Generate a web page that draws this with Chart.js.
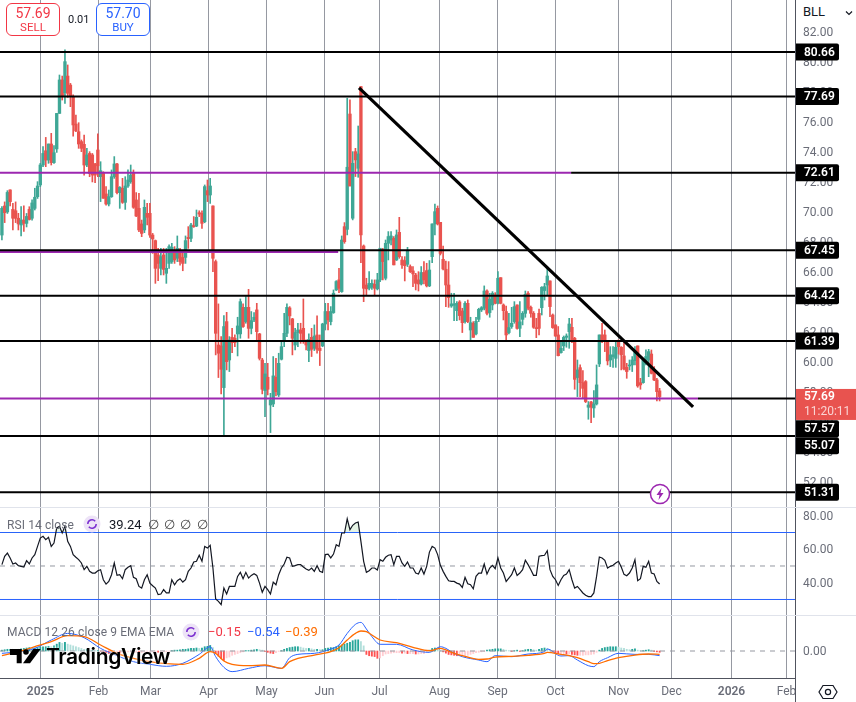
<!DOCTYPE html>
<html>
<head>
<meta charset="utf-8">
<script src="https://cdn.jsdelivr.net/npm/chart.js@4"></script>
<style>
    html, body { margin: 0; padding: 0; background: #fff; overflow: hidden; }
    body { width: 856px; height: 702px; position: relative; font-family: Roboto, sans-serif; color: #131722; }
    canvas { position: absolute; left: 0; display: block; }
    .abs { position: absolute; white-space: nowrap; }
    .quote { position: absolute; top: 3px; width: 52px; height: 31px; background: #fff; border: 1px solid; border-radius: 6px; text-align: center; }
    .quote b { display: block; font-weight: 400; font-size: 14px; line-height: 15px; margin-top: 2px; }
    .quote span { display: block; font-size: 11.5px; line-height: 13px; }
    .legend { font-size: 12px; letter-spacing: 0.1px; color: #6a6d78; line-height: 16px; }
    .sep { position: absolute; background: #e0e3eb; left: 0; width: 856px; height: 1px; }
</style>
</head>
<body>
<canvas id="priceChart" width="856" height="507" style="top:0"></canvas>
<canvas id="rsiChart" width="856" height="107" style="top:508px"></canvas>
<canvas id="macdChart" width="856" height="87" style="top:615px"></canvas>
<div class="sep" style="top:507px"></div>
<div class="sep" style="top:615px"></div>
<div class="abs" style="left:795px;top:678px;width:1px;height:24px;background:#50535e"></div>

<div class="quote" style="left:6px;border-color:#f23645;color:#f23645"><b>57.69</b><span>SELL</span></div>
<div class="abs" style="left:68px;top:13px;font-size:11px;line-height:13px">0.01</div>
<div class="quote" style="left:96px;border-color:#2962ff;color:#2962ff"><b>57.70</b><span>BUY</span></div>

<div class="abs" style="left:800px;top:0;width:56px;height:26px;background:#fff;border-radius:0 0 0 5px"></div>
<div class="abs" style="left:803px;top:4px;font-size:13px;line-height:16px">BLL</div>
<svg class="abs" style="left:845px;top:10px" width="8" height="6"><path d="M1 1.5 L4 4.5 L7 1.5" fill="none" stroke="#131722" stroke-width="1.2"/></svg>

<svg class="abs" style="left:649px;top:483px" width="22" height="22">
    <circle cx="11" cy="11" r="9.5" fill="#fff" stroke="#9c27b0" stroke-width="1.5"/>
    <path d="M12.5 5 L7.5 12 H10.5 L9.5 17 L14.5 10 H11.5 Z" fill="#9c27b0"/>
</svg>

<div class="abs legend" style="left:7px;top:517px">RSI 14 close</div>
<svg class="abs" style="left:83px;top:515px" width="18" height="18">
    <circle cx="9" cy="9" r="8.5" fill="#ede3f7"/>
    <path d="M4.8 9 A4.2 4.2 0 0 1 12.2 6.3 M13.2 9 A4.2 4.2 0 0 1 5.8 11.7" fill="none" stroke="#7b2fd0" stroke-width="1.5"/>
</svg>
<div class="abs" style="left:109px;top:517px;font-size:13px;line-height:16px">39.24</div>
<div class="abs" style="left:148px;top:517px;font-size:13px;line-height:16px;word-spacing:2px;color:#444">∅ ∅ ∅ ∅</div>

<div class="abs legend" style="left:7px;top:624px">MACD 12 26 close 9 EMA EMA</div>
<svg class="abs" style="left:182px;top:623px" width="18" height="18">
    <circle cx="9" cy="9" r="8.5" fill="#ede3f7"/>
    <path d="M4.8 9 A4.2 4.2 0 0 1 12.2 6.3 M13.2 9 A4.2 4.2 0 0 1 5.8 11.7" fill="none" stroke="#7b2fd0" stroke-width="1.5"/>
</svg>
<div class="abs" style="left:208px;top:624px;font-size:13px;line-height:16px;color:#f23645">−0.15</div>
<div class="abs" style="left:247px;top:624px;font-size:13px;line-height:16px;color:#2962ff">−0.54</div>
<div class="abs" style="left:285px;top:624px;font-size:13px;line-height:16px;color:#ff6d00">−0.39</div>

<svg class="abs" style="left:8px;top:647px" width="36" height="20">
    <path d="M2 2 H13.7 V16.3 H8.7 V8 H2 Z" fill="#000"/>
    <circle cx="18" cy="5" r="2.8" fill="#000"/>
    <path d="M25.3 2 H32.7 L22 16.3 H15 Z" fill="#000"/>
</svg>
<div class="abs" style="left:46px;top:644px;font-family:Inter, sans-serif;font-weight:600;font-size:21px;line-height:26px;letter-spacing:-0.35px;color:#000;text-shadow:0 0 3px #fff">TradingView</div>

<svg class="abs" style="left:818px;top:682px" width="20" height="20">
    <path d="M5 3.5 H15 L19 10 L15 16.5 H5 L1 10 Z" fill="none" stroke="#131722" stroke-width="1.2"/>
    <circle cx="10" cy="10" r="2.6" fill="none" stroke="#131722" stroke-width="1.2"/>
</svg>

<script>
const opens = [
    68.46,70.40,70.00,71.47,70.17,70.08,69.58,69.13,69.46,69.24,
    70.17,69.58,70.24,71.02,71.80,73.13,74.08,73.46,74.53,73.29,
    74.20,76.57,78.80,77.95,79.06,78.46,77.69,75.86,75.35,74.69,
    74.51,73.13,73.90,73.80,73.20,74.13,72.35,72.57,71.20,70.53,
    71.02,72.35,73.20,71.29,71.58,70.64,71.73,72.02,72.57,70.80,
    70.24,69.20,68.80,69.91,69.91,68.46,68.09,67.13,66.24,67.13,
    65.91,66.57,66.69,67.24,66.91,67.42,66.97,66.97,68.31,68.24,
    69.06,69.06,69.95,69.91,69.35,71.42,71.13,70.40,66.69,61.13,
    61.07,58.29,62.69,60.13,61.64,61.58,61.87,61.87,63.64,62.69,
    63.64,62.24,62.80,63.47,61.87,60.13,58.09,58.98,57.13,57.20,
    58.98,57.80,60.18,61.47,61.91,63.60,62.87,61.13,61.96,62.13,
    62.24,61.36,60.76,61.64,60.91,61.80,60.91,61.07,62.53,63.36,
    62.69,63.29,64.80,65.47,64.69,69.02,68.84,76.53,69.58,74.02,
    72.91,78.36,67.73,65.13,64.91,64.98,65.18,64.87,65.47,67.47,
    65.58,67.91,68.13,68.24,66.80,68.64,66.80,66.76,66.51,66.36,
    66.07,65.80,65.47,65.20,65.96,66.09,65.07,67.02,69.20,70.24,
    69.31,66.84,66.18,65.13,63.73,63.78,63.42,64.00,63.40,62.69,
    63.91,62.13,62.58,61.87,62.84,63.47,63.58,64.73,63.29,63.80,
    64.47,63.91,65.62,63.80,63.36,61.96,62.36,62.69,63.80,62.24,
    62.84,63.24,64.58,63.64,63.24,62.29,63.24,63.62,64.76,65.13,
    65.40,63.13,62.47,61.80,60.62,61.07,61.64,62.02,62.31,61.58,
    58.96,59.62,58.62,58.69,56.98,57.33,56.93,57.20,59.87,61.80,
    61.80,61.36,60.13,60.36,60.24,61.36,60.98,60.40,59.64,59.73,
    59.80,60.09,61.07,58.62,58.62,59.91,60.13,60.53,59.47,58.80,58.07
];
const highs = [
    70.35,70.67,71.42,71.47,70.57,70.67,69.91,70.35,70.40,69.90,
    70.35,70.80,71.58,72.02,73.24,74.35,74.97,74.53,75.24,74.42,
    76.57,79.13,79.06,80.80,79.80,78.57,77.80,76.46,75.95,74.80,
    75.13,74.24,74.02,73.90,73.24,75.20,73.35,72.68,71.69,71.46,
    72.80,73.69,73.24,71.69,72.24,72.35,72.80,73.13,72.80,71.29,
    71.24,69.46,70.80,70.57,70.57,68.57,68.13,67.57,67.57,67.57,
    67.57,67.80,67.91,67.69,68.40,67.57,67.35,68.40,69.02,69.24,
    69.69,70.13,70.08,70.08,71.80,72.13,72.24,70.40,66.80,63.87,
    61.69,63.09,63.31,61.69,62.24,61.80,62.98,64.20,63.87,64.36,
    64.84,63.36,63.29,63.91,61.91,60.24,59.91,59.91,57.91,60.36,
    60.24,60.58,61.36,63.24,63.87,63.69,62.91,62.24,62.58,62.58,
    64.20,61.47,61.87,62.24,62.47,63.07,61.80,62.58,63.91,63.91,
    63.69,64.80,65.42,66.24,68.40,69.29,77.58,77.47,74.02,74.24,
    75.73,78.36,67.80,65.58,66.02,65.47,65.47,65.91,67.58,67.58,
    68.13,68.69,68.69,68.36,68.80,69.64,67.02,67.02,67.64,66.47,
    66.36,65.91,66.02,66.36,66.69,66.58,66.76,69.20,70.53,70.40,
    69.31,67.73,66.73,66.69,64.58,64.58,64.02,64.09,63.58,64.02,
    64.13,62.98,62.69,62.98,63.58,63.69,65.07,64.80,64.58,64.69,
    64.62,66.02,65.62,63.87,63.73,63.24,63.64,64.02,63.80,64.02,
    63.36,64.73,64.69,63.73,63.36,62.91,63.53,65.02,65.24,66.18,
    65.40,63.20,62.47,62.36,61.36,61.73,61.87,62.91,62.91,61.64,
    60.13,59.80,59.42,58.76,57.36,57.38,58.09,59.80,61.80,62.58,
    62.13,61.36,61.02,61.02,61.36,61.47,61.02,61.36,59.91,60.13,
    60.36,61.02,61.07,58.91,60.24,60.80,60.84,60.80,59.69,58.91,58.24
];
const lows = [
    68.13,69.29,69.90,70.40,68.80,69.29,68.80,68.40,68.70,69.00,
    69.46,69.46,70.13,70.90,71.69,73.02,73.02,73.24,73.13,73.24,
    73.97,76.57,77.46,77.24,77.64,77.02,75.06,75.35,74.24,74.02,
    72.46,73.02,72.35,72.00,71.95,72.35,70.69,70.91,70.46,70.40,
    70.97,72.24,71.20,70.24,70.57,70.17,71.64,71.91,70.24,69.69,
    68.69,68.35,68.62,69.13,68.31,67.24,65.24,65.42,65.80,65.80,
    65.24,66.24,66.57,66.57,66.69,66.46,66.08,66.57,67.57,68.02,
    68.97,69.02,69.69,68.91,69.28,70.69,70.57,66.02,60.47,58.96,
    57.87,55.13,59.47,59.36,60.62,61.02,60.40,61.58,62.31,62.58,
    61.58,61.87,62.69,61.47,60.13,57.87,56.36,57.80,55.29,57.02,
    57.73,57.69,60.13,61.02,61.69,62.47,60.47,60.80,61.02,61.24,
    61.24,60.80,60.02,60.36,60.76,60.58,59.76,61.02,62.13,62.13,
    62.47,63.24,64.76,64.62,64.64,67.91,68.47,71.73,69.47,72.36,
    72.31,66.62,64.02,64.47,64.80,64.84,64.47,64.80,65.36,65.47,
    65.47,66.80,67.80,66.47,66.76,66.91,66.24,65.40,66.36,65.96,
    65.02,64.80,64.73,65.13,65.20,65.00,65.02,66.62,68.47,69.13,
    67.13,66.13,63.69,63.64,63.64,62.76,62.76,62.80,61.96,62.58,
    62.62,61.47,61.64,61.80,62.69,63.36,63.47,63.13,62.98,63.47,
    63.87,63.87,63.87,62.80,61.42,61.87,62.24,62.58,62.18,61.69,
    62.47,62.98,63.47,62.98,62.24,61.62,61.80,63.13,64.13,64.47,
    63.02,62.24,61.69,60.40,60.58,60.76,60.98,60.91,61.29,58.18,
    57.69,57.69,57.58,57.29,56.18,55.96,56.31,57.13,59.69,61.29,
    60.69,59.80,59.69,59.64,59.64,60.53,59.47,59.47,58.91,59.47,
    59.36,59.80,58.31,58.18,58.58,59.80,59.02,59.20,58.76,57.40,57.40
];
const closes = [
    70.24,69.95,71.30,70.69,69.58,69.58,69.20,69.46,69.24,69.70,
    69.50,70.60,70.98,71.73,73.13,73.90,73.46,74.53,73.29,73.95,
    76.57,78.80,77.69,80.02,77.91,77.69,75.80,75.40,74.53,74.24,
    73.13,73.80,72.57,72.46,72.46,73.08,72.75,70.91,70.53,71.02,
    72.35,73.20,71.29,71.64,70.64,71.73,72.13,72.46,70.31,69.73,
    68.80,68.57,70.31,69.64,68.46,68.20,66.24,66.57,67.02,66.17,
    66.24,67.69,67.64,66.80,67.57,66.69,66.57,68.09,68.22,69.13,
    69.02,69.64,69.86,69.24,71.69,71.13,71.73,66.91,61.91,60.58,
    59.51,62.36,60.02,61.47,61.29,61.29,62.40,64.02,62.36,63.64,
    62.24,62.76,62.98,62.02,60.24,58.18,59.20,58.18,57.47,59.07,
    58.02,59.91,61.02,61.91,63.64,63.07,61.58,61.96,62.13,61.91,
    61.36,61.13,61.51,60.84,61.73,60.84,60.76,62.53,63.36,62.80,
    63.36,64.58,65.36,64.91,68.13,68.02,72.98,71.73,73.24,73.47,
    73.87,68.47,64.91,64.87,65.24,65.24,64.91,65.47,67.58,66.69,
    67.91,68.36,68.40,66.47,68.47,67.02,66.47,66.42,67.42,66.02,
    65.87,65.24,65.20,65.96,65.47,65.07,66.13,69.20,70.02,69.20,
    67.24,66.20,65.13,64.29,63.87,63.87,63.91,63.09,62.62,63.91,
    62.69,62.62,61.64,62.71,63.51,63.62,64.73,63.24,64.18,64.58,
    63.91,65.58,63.91,63.42,61.80,62.29,62.58,63.69,62.24,62.67,
    63.24,64.51,63.58,63.24,62.31,62.22,62.24,64.98,65.02,65.73,
    63.69,62.29,61.73,60.42,60.91,61.64,61.73,62.53,61.36,58.84,
    59.47,58.62,58.24,57.36,57.13,56.98,57.20,58.47,61.80,61.36,
    61.36,60.07,60.47,60.47,60.98,61.02,60.47,59.53,59.36,59.80,
    60.13,60.80,58.40,58.47,60.13,60.36,60.69,59.24,58.80,58.02,57.69
];
const rsiValues = [
    50.8,55.8,57.7,54.8,51.2,51.8,50.2,49.8,49.4,53.2,
    51.2,54.8,56.8,61.7,66.7,67.7,65.7,67.1,61.7,63.7,
    72.7,73.7,69.7,73.7,64.7,61.7,56.8,55.2,53.8,51.8,
    47.8,49.8,46.8,45.8,45.8,47.2,47.8,41.8,39.2,40.8,
    44.8,51.8,44.4,44.8,42.4,47.8,49.2,50.2,43.2,42.4,
    37.8,36.8,41.8,44.8,39.8,38.2,36.8,32.9,33.3,35.9,
    33.9,33.9,41.8,38.8,41.2,42.4,40.4,41.8,46.8,48.8,
    52.4,52.8,56.4,52.8,61.7,60.7,62.3,48.8,30.3,28.9,
    26.9,36.8,33.3,37.8,37.8,37.8,43.8,46.2,42.4,46.2,
    42.8,44.4,45.4,44.4,39.8,34.3,37.8,35.9,33.3,40.4,
    38.8,44.8,48.8,51.2,55.2,54.8,49.8,50.2,50.8,50.8,
    49.4,48.2,47.4,48.8,46.8,50.2,46.8,46.2,56.8,57.1,
    54.8,57.1,62.7,61.7,69.7,69.7,78.2,71.7,74.3,75.7,
    76.3,64.7,52.8,46.2,47.2,48.8,48.8,47.6,53.8,52.8,
    55.2,56.4,56.8,50.8,55.8,55.8,51.8,49.8,52.4,48.8,
    48.8,45.8,45.2,48.8,45.2,49.8,58.3,61.7,60.7,56.8,
    50.4,46.8,43.8,41.2,40.8,40.8,39.8,39.2,37.2,43.2,
    39.4,38.8,36.4,43.8,45.8,45.8,51.2,45.2,48.8,50.4,
    48.4,54.8,48.8,45.8,40.8,42.8,44.8,48.8,44.4,45.8,
    47.8,53.4,50.8,47.8,44.4,44.4,55.8,56.2,56.4,59.1,
    47.8,43.8,41.8,38.4,41.8,44.4,45.2,47.8,41.8,36.8,
    37.8,35.9,33.9,32.5,31.7,31.7,33.9,43.8,55.4,54.8,
    53.4,48.8,49.8,50.4,51.8,52.8,49.4,45.0,44.2,45.8,
    48.8,53.8,41.2,42.4,49.8,49.2,52.8,45.8,45.2,40.8,39.24
];
const macdIdx = [0,6,12,18,24,30,36,42,48,54,60,66,72,76,78,81,84,90,96,102,105,108,114,120,123,126,129,131,133,135,138,144,150,156,160,162,165,168,174,177,180,186,192,198,199,204,207,210,214,216,218,221,225,231,236,240];
const macdLine = [-0.27,-0.08,0.31,1.28,2.05,1.55,0.31,-0.54,-1.24,-1.55,-1.78,-1.43,-0.39,0.50,-0.66,-1.90,-2.40,-2.02,-1.71,-2.02,-0.78,-0.39,-0.27,0.23,0.70,2.05,3.10,3.33,2.56,1.67,0.78,0.78,0.12,-0.16,0.50,0.31,-0.27,-0.66,-1.05,-1.24,-0.54,-0.66,-0.35,-0.08,0.23,-0.58,-0.54,-1.05,-1.71,-1.82,-1.24,-0.78,-0.27,-0.39,-0.39,-0.54];
const signalLine = [-0.54,-0.08,0.50,1.09,1.78,1.67,0.70,-0.27,-0.85,-1.24,-1.47,-1.55,-0.85,-0.08,-0.27,-1.16,-1.55,-1.71,-1.63,-2.02,-1.24,-0.85,-0.47,-0.08,0.39,1.28,2.05,2.33,2.25,1.86,1.28,0.97,0.43,0.04,0.31,0.12,-0.27,-0.54,-0.97,-0.93,-0.70,-0.62,-0.50,-0.27,-0.16,-0.39,-0.54,-0.78,-1.24,-1.47,-1.43,-1.12,-0.78,-0.47,-0.35,-0.39];
const histValues = [
    0.1,0.15,0.2,0.2,0.2,0.15,0.2,0.25,0.3,0.35,0.4,0.3,0.35,0.4,
    0.45,0.5,0.5,0.55,0.5,0.6,0.8,1.0,0.9,1.0,0.8,
    0.7,0.6,0.5,0.4,0.3,0.2,0.2,0.1,0.1,0.05,0.05,
    -0.05,-0.1,-0.2,-0.3,-0.3,-0.2,-0.2,-0.25,-0.2,-0.15,-0.1,-0.1,-0.15,-0.15,
    -0.2,-0.2,-0.15,-0.1,-0.1,-0.1,-0.1,-0.15,-0.15,-0.1,-0.1,-0.05,
    0.05,0.1,0.1,0.15,0.2,0.2,0.25,0.3,0.3,0.35,0.3,0.35,0.5,0.55,0.65,
    0.4,-0.2,-0.6,-0.9,-1.1,-0.8,-0.7,-0.5,-0.4,-0.3,-0.2,-0.1,
    0.05,0.05,0.1,0.15,0.2,0.15,0.1,-0.05,-0.15,-0.25,-0.3,-0.2,-0.05,
    0.05,0.2,0.3,0.4,0.45,0.5,0.5,0.45,0.35,0.3,0.3,0.25,0.2,0.2,0.15,0.15,
    0.3,0.35,0.4,0.4,0.5,0.6,0.7,0.8,0.9,1.0,1.2,1.3,1.3,1.1,0.6,
    -0.4,-0.55,-0.6,-0.65,-0.85,-0.8,-0.55,-0.35,-0.3,-0.25,-0.2,-0.2,-0.2,-0.25,-0.25,
    -0.3,-0.3,-0.3,-0.35,-0.35,-0.3,-0.3,-0.1,0.1,0.3,0.35,0.25,0.1,-0.1,-0.25,
    -0.4,-0.45,-0.5,-0.55,-0.55,-0.5,-0.5,-0.5,-0.4,-0.3,-0.2,-0.15,-0.1,-0.05,
    0.1,0.15,0.2,0.25,0.25,0.25,0.2,0.1,0.05,-0.05,0.05,0.1,-0.05,0.05,0.15,
    0.2,0.2,0.15,0.1,0.2,0.3,0.35,0.3,0.15,-0.1,-0.25,-0.3,
    -0.3,-0.3,-0.35,-0.35,-0.4,-0.45,-0.5,-0.5,-0.5,-0.45,-0.45,-0.4,-0.35,-0.15,
    0.1,0.3,0.4,0.45,0.5,0.5,0.5,0.45,0.35,0.3,0.2,0.15,0.2,0.25,0.1,0.05,0.05,0.1,0.15,0.1,
    -0.05,-0.1,-0.15
];
const monthNames = ['2025','Feb','Mar','Apr','May','Jun','Jul','Aug','Sep','Oct','Nov','Dec','2026','Feb'];
const monthTicks = [14.079,35.243,54.218,75.383,96.547,117.712,137.782,159.676,180.841,202.005,224.994,244.334,266.225,286.299];
const priceTicks = [52,54,56,58,60,62,64,66,68,70,72,74,76,78,80,82];
const rsiTicks = [40,60,80];
const macdTicks = [0];
const blackLevels = [80.66,77.69,67.45,64.42,61.39,55.07,51.31];
const purpleLevels = [72.61,67.33,57.57];
const purpleEnds = [207.7,122.7,254];
const stubLevels = [72.61,57.57];
const stubStarts = [207.7,254];
const trendX = [130.3,252.2];
const trendY = [78.27,57.0];
const tagLabels = ['80.66','77.69','72.61','67.45','64.42','61.39','57.57','55.07','51.31'];
const tagPrices = [80.66,77.69,72.61,67.45,64.42,61.39,55.55,54.42,51.31];

const xMin = -0.7, xMax = 289.4;
const upColor = '#3fa796', downColor = '#e9534f';
const gridColor = '#9598a1', axisColor = '#50535e', labelColor = '#6a6d78';

const isUp = i => closes[i] >= opens[i];
const candleColors = opens.map((_, i) => isUp(i) ? upColor : downColor);

function hLine(y, from, to, color, width, dash) {
    return {
        type: 'line',
        data: [{ x: from, y }, { x: to, y }],
        borderColor: color,
        borderWidth: width,
        borderDash: dash || [],
        pointRadius: 0,
        order: 0,
    };
}

// month gridlines are drawn as datasets, behind everything else in the pane
function monthLines(yMin, yMax) {
    return monthTicks.map(x => ({
        type: 'line',
        data: [{ x, y: yMin }, { x, y: yMax }],
        borderColor: gridColor,
        borderWidth: 1,
        pointRadius: 0,
        order: 9,
    }));
}

function xScale(showLabels) {
    return {
        type: 'linear',
        min: xMin,
        max: xMax,
        offset: false,
        afterBuildTicks: axis => { axis.ticks = monthTicks.map(value => ({ value })); },
        afterFit: axis => {
            axis.paddingLeft = 0;
            axis.paddingRight = 0;
            if (showLabels) axis.height = 24;
        },
        grid: { display: false, drawTicks: false },
        border: { display: showLabels, color: axisColor },
        ticks: {
            display: showLabels,
            autoSkip: false,
            maxRotation: 0,
            padding: 7,
            color: labelColor,
            font: ctx => ({
                family: 'Roboto',
                size: 12,
                weight: ctx.tick && /^20/.test(ctx.tick.label) ? '600' : '400',
            }),
            callback: (v, i) => monthNames[i],
        },
    };
}

function yScale(min, max, tickValues) {
    return {
        position: 'right',
        min,
        max,
        afterFit: axis => { axis.width = 61; axis.paddingTop = 0; axis.paddingBottom = 0; },
        afterBuildTicks: axis => { axis.ticks = tickValues.map(value => ({ value })); },
        grid: { display: false, drawTicks: false },
        border: { color: axisColor },
        ticks: {
            padding: 8,
            labelOffset: 1,
            color: labelColor,
            font: { family: 'Roboto', size: 12 },
            callback: v => v.toFixed(2),
        },
    };
}

function baseOptions(scales) {
    return {
        responsive: false,
        animation: false,
        events: [],
        layout: { padding: 0 },
        plugins: { legend: { display: false }, tooltip: { enabled: false } },
        scales,
    };
}

// black price tags on the right axis, plus the red last price tag
const priceTagsPlugin = {
    id: 'priceTags',
    afterDraw(chart) {
        const { ctx: c, scales } = chart;
        c.save();
        c.textBaseline = 'middle';
        c.textAlign = 'left';
        tagLabels.forEach((label, i) => {
            const y = scales.y.getPixelForValue(tagPrices[i]);
            c.fillStyle = '#000';
            c.beginPath();
            c.roundRect(796, y - 8.5, 43, 17, [0, 2, 2, 0]);
            c.fill();
            c.fillStyle = '#fff';
            c.font = '600 12px Roboto';
            c.fillText(label, 804, y + 0.5);
        });
        const top = scales.y.getPixelForValue(58.2);
        c.fillStyle = '#e8534f';
        c.fillRect(796, top, 60, 31);
        c.fillStyle = '#fff';
        c.font = '600 12px Roboto';
        c.fillText('57.69', 804, top + 8.5);
        c.fillStyle = 'rgba(255,255,255,0.75)';
        c.font = '12px Roboto';
        c.fillText('11:20:11', 804, top + 23);
        c.restore();
    }
};

new Chart(document.getElementById('priceChart'), {
    type: 'bar',
    data: {
        datasets: [
            { type: 'line', data: trendX.map((x, i) => ({ x, y: trendY[i] })), borderColor: '#000', borderWidth: 3.2, pointRadius: 0, order: 0 },
            ...blackLevels.map(v => hLine(v, xMin, xMax, '#000', 2)),
            ...stubLevels.map((v, i) => hLine(v, stubStarts[i], xMax, '#000', 2)),
            ...purpleLevels.map((v, i) => hLine(v, xMin, purpleEnds[i], '#9c27b0', 2)),
            {
                data: opens.map((o, i) => ({ x: i, y: [o, closes[i]] })),
                backgroundColor: candleColors,
                barThickness: 2.7,
                minBarLength: 1,
                grouped: false,
                order: 1,
            },
            {
                data: opens.map((_, i) => ({ x: i, y: [lows[i], highs[i]] })),
                backgroundColor: candleColors,
                barThickness: 1,
                grouped: false,
                order: 2,
            },
            ...monthLines(50.33, 84.13),
        ]
    },
    options: baseOptions({ x: xScale(false), y: yScale(50.33, 84.13, priceTicks) }),
    plugins: [priceTagsPlugin]
});

new Chart(document.getElementById('rsiChart'), {
    type: 'line',
    data: {
        datasets: [
            {
                data: rsiValues.map((v, i) => ({ x: i, y: v })),
                borderColor: '#131722',
                borderWidth: 1.2,
                pointRadius: 0,
                fill: { target: { value: 70 }, above: 'rgba(76,175,80,0.14)', below: 'transparent' },
            },
            hLine(70, xMin, xMax, '#2962ff', 1),
            hLine(30, xMin, xMax, '#2962ff', 1),
            hLine(50, xMin, xMax, '#9598a1', 1, [5, 5]),
            ...monthLines(20.746, 84.627),
        ]
    },
    options: baseOptions({ x: xScale(false), y: yScale(20.746, 84.627, rsiTicks) }),
});

new Chart(document.getElementById('macdChart'), {
    type: 'bar',
    data: {
        datasets: [
            {
                type: 'line',
                data: macdIdx.map((x, i) => ({ x, y: signalLine[i] })),
                borderColor: '#ff6d00',
                borderWidth: 1.3,
                pointRadius: 0,
                tension: 0.4,
                cubicInterpolationMode: 'monotone',
                order: 0,
            },
            {
                type: 'line',
                data: macdIdx.map((x, i) => ({ x, y: macdLine[i] })),
                borderColor: '#2962ff',
                borderWidth: 1,
                pointRadius: 0,
                tension: 0.4,
                cubicInterpolationMode: 'monotone',
                order: 1,
            },
            hLine(0, xMin, xMax, '#9598a1', 1, [5, 5]),
            {
                data: histValues.map((v, i) => ({ x: i, y: v })),
                backgroundColor: histValues.map((v, i) => {
                    const rising = i === 0 || v >= histValues[i - 1];
                    if (v >= 0) return rising ? '#26a69a' : '#b2dfdb';
                    return rising ? '#ffcdd2' : '#ff5252';
                }),
                barThickness: 1.2,
                grouped: false,
                order: 3,
            },
            ...monthLines(-3.14, 4.19),
        ]
    },
    options: baseOptions({ x: xScale(true), y: yScale(-3.14, 4.19, macdTicks) }),
});
</script>
</body>
</html>
